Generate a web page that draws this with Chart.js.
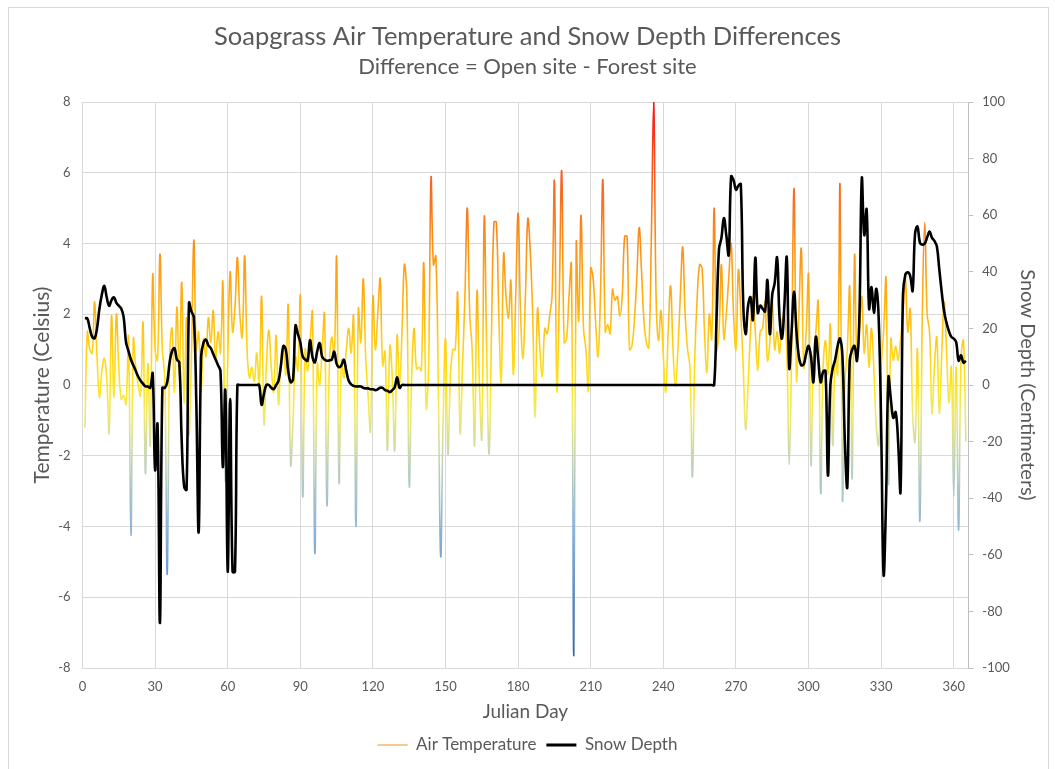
<!DOCTYPE html>
<html><head><meta charset="utf-8">
<script src="https://cdn.jsdelivr.net/npm/chart.js@4.4.1/dist/chart.umd.min.js"></script>
<style>
html,body{margin:0;padding:0;background:#fff;overflow:hidden;width:1055px;height:769px;}
#frame{position:absolute;left:8px;top:7px;width:1041px;height:800px;border:1px solid #d9d9d9;box-sizing:border-box;}
#c{position:absolute;left:0;top:0;}
</style></head><body>
<div id="frame"></div>
<canvas id="c" width="1055" height="769"></canvas>
<script>
const julianDays = [
1,2,3,4,5,6,7,8,9,10,11,12,13,14,15,16,17,18,19,20,
21,22,23,24,25,26,27,28,29,30,31,32,33,34,35,36,37,38,39,40,
41,42,43,44,45,46,47,48,49,50,51,52,53,54,55,56,57,58,59,60,
61,62,63,64,65,66,67,68,69,70,71,72,73,74,75,76,77,78,79,80,
81,82,83,84,85,86,87,88,89,90,91,92,93,94,95,96,97,98,99,100,
101,102,103,104,105,106,107,108,109,110,111,112,113,114,115,116,117,118,119,120,
121,122,123,124,125,126,127,128,129,130,131,132,133,134,135,136,137,138,139,140,
141,142,143,144,145,146,147,148,149,150,151,152,153,154,155,156,157,158,159,160,
161,162,163,164,165,166,167,168,169,170,171,172,173,174,175,176,177,178,179,180,
181,182,183,184,185,186,187,188,189,190,191,192,193,194,195,196,197,198,199,200,
201,202,203,204,205,206,207,208,209,210,211,212,213,214,215,216,217,218,219,220,
221,222,223,224,225,226,227,228,229,230,231,232,233,234,235,236,237,238,239,240,
241,242,243,244,245,246,247,248,249,250,251,252,253,254,255,256,257,258,259,260,
261,262,263,264,265,266,267,268,269,270,271,272,273,274,275,276,277,278,279,280,
281,282,283,284,285,286,287,288,289,290,291,292,293,294,295,296,297,298,299,300,
301,302,303,304,305,306,307,308,309,310,311,312,313,314,315,316,317,318,319,320,
321,322,323,324,325,326,327,328,329,330,331,332,333,334,335,336,337,338,339,340,
341,342,343,344,345,346,347,348,349,350,351,352,353,354,355,356,357,358,359,360,
361,362,363,364,365
];
const airTemperature = [
-1.2,1.5,1.0,0.9,2.35,0.8,-0.35,0.4,0.75,0.2,-1.35,1.95,-0.35,2.0,0.5,-0.4,-0.3,-0.55,1.35,-4.25,
1.3,0.5,0.0,-0.3,1.75,-2.5,0.6,-1.7,3.1,1.0,0.7,3.7,1.0,0.2,-5.35,0.8,1.6,-0.2,2.2,0.3,
2.9,-0.5,1.9,-1.4,0.8,4.1,1.0,1.5,-0.2,1.3,0.8,1.9,1.2,2.1,0.7,1.5,0.9,2.9,-2.7,0.6,
3.2,1.5,2.2,3.6,2.0,1.35,3.65,1.0,0.2,0.5,0.1,0.9,0.0,2.5,-1.1,0.6,1.55,0.5,-0.2,1.4,
-0.55,0.7,1.0,0.3,2.25,-2.25,-1.0,0.8,0.4,2.5,-3.15,1.0,0.4,1.2,2.05,-4.75,0.6,0.0,1.0,2.0,
-3.4,0.5,1.35,0.8,3.6,-2.75,0.7,0.2,1.0,1.6,0.9,1.95,-4.0,2.15,1.2,3.0,0.8,-0.3,-1.3,2.5,
1.0,2.0,3.0,0.55,0.95,-1.85,1.1,0.2,-1.85,1.4,0.0,1.5,3.4,2.6,-2.85,0.2,1.6,0.45,0.5,0.4,
3.45,-0.65,0.5,5.85,3.4,3.65,0.0,-4.85,-1.0,1.3,-1.95,0.2,1.0,1.0,2.6,-1.35,0.5,2.5,5.0,2.0,
1.0,-1.7,2.65,0.0,-1.5,4.75,1.0,-1.95,1.5,4.6,4.6,2.0,0.1,3.7,2.5,1.9,2.95,0.3,2.5,4.85,
2.0,0.75,2.5,4.7,3.8,2.0,-0.9,2.15,1.0,0.25,1.6,1.45,1.95,2.5,5.75,-0.15,2.5,6.05,1.2,1.3,
2.5,3.4,-7.65,4.0,1.8,4.8,1.6,1.0,-0.15,3.3,3.0,1.8,0.8,2.5,5.8,1.5,1.7,1.45,2.7,2.4,
2.5,1.95,2.5,4.2,4.2,1.0,1.1,1.8,3.0,4.45,3.2,1.8,1.2,1.05,4.0,8.0,2.5,1.25,2.1,0.8,
-0.2,1.5,2.8,1.0,-0.05,1.0,2.5,3.9,2.0,1.0,0.5,-2.6,0.8,2.5,3.4,3.3,1.5,0.35,2.0,1.3,
5.0,1.0,1.5,3.4,1.3,2.0,3.0,4.0,2.0,1.0,3.25,2.0,0.5,-1.25,0.0,1.5,2.5,1.5,0.4,1.5,
1.6,2.35,0.7,1.2,2.35,1.0,1.5,0.9,1.8,2.0,1.0,-2.25,1.0,5.55,0.15,2.0,3.85,0.5,1.5,3.1,
-2.25,0.8,1.5,2.35,-3.05,0.5,1.25,0.3,1.7,-1.7,0.8,0.3,5.65,-3.2,0.0,1.0,2.75,-2.65,3.65,0.7,
1.5,2.5,0.9,1.7,0.5,1.6,0.4,-1.2,-1.7,0.5,1.5,3.0,-2.8,1.3,0.7,1.1,0.7,1.3,2.0,3.0,
1.5,2.15,-0.8,-1.6,1.0,-3.85,2.0,4.6,2.0,1.5,-0.8,0.5,1.35,-0.8,0.8,2.35,1.0,-0.5,0.5,-3.15,
0.5,-4.1,0.8,1.25,-1.6
];
const snowDepth = [
23.6,23.5,20,17,16.5,20,27,32,35,31,28,30,31,29,28,27,24,15,12,9,
7,5,3,1.5,0.5,-0.5,-0.5,-1,4,-30,-14,-84,-1,-1,1,8,12,13,9,8,
-20,-36,-37,29,26,24,-5,-52,10,15,16,14,13,11,9,7,5,-29,-2,-66,
-5,-66,-66,0,0,0,0,0,0,0,0,0,0,-7,-3,0,0,-1,-1.5,0,
1.5,7,13.8,12.5,5,1,2,21,18,15,10,9,8.6,15.8,10,8,12,14.8,10,9,
8.6,8.7,9,11.8,7.5,6.3,7,8.9,5,1.5,0.2,-0.3,-0.5,-0.5,-0.5,-1,-1.2,-1.2,-1.5,-1.5,
-1.8,-1.5,-1,-1,-1.8,-2,-2.5,-1.8,-0.8,2.7,-1,0,0,0,0,0,0,0,0,0,
0,0,0,0,0,0,0,0,0,0,0,0,0,0,0,0,0,0,0,0,
0,0,0,0,0,0,0,0,0,0,0,0,0,0,0,0,0,0,0,0,
0,0,0,0,0,0,0,0,0,0,0,0,0,0,0,0,0,0,0,0,
0,0,0,0,0,0,0,0,0,0,0,0,0,0,0,0,0,0,0,0,
0,0,0,0,0,0,0,0,0,0,0,0,0,0,0,0,0,0,0,0,
0,0,0,0,0,0,0,0,0,0,0,0,0,0,0,0,0,0,0,0,
0,24,48,52,59,53,46,73.7,72.4,69,70.4,71,29,18,28,31,23,45,25.5,28,
27,26,37,18,32,36,45,24,16.4,28,45,6,19,33,19,10,7,7.3,11,13.8,
10,1,17,9,1,4.7,5,-32,0,6,9,13.8,16.4,10,-20,-36,8.6,12.5,13.8,8.6,
24,73,53,62,27,34.6,25.5,34,22.9,-15,-67,-41,2.7,-5,-11.6,-9.6,-20,-37.6,32,39,
39.8,38.5,33.3,53.5,56,50.3,49.6,50,52.2,54.2,52,50.9,49,41,33,26,22,19,17,16.4,
15.1,8.6,10.5,7.9,8.6
];
const xTickValues = [0,30,60,90,120,150,180,210,240,270,300,330,360];
const tempTicks = [-8,-6,-4,-2,0,2,4,6,8];
const snowTicks = [-100,-80,-60,-40,-20,0,20,40,60,80,100];

const FONT = 'Lato, "Open Sans", sans-serif';
const GRAY = '#595959';
const GRID = '#d9d9d9';

const tempPoints = julianDays.map((d, i) => ({x: d, y: airTemperature[i]}));
const snowPoints = julianDays.map((d, i) => ({x: d, y: snowDepth[i]}));

const gradientStops = [
  [0.0, '#2f5f9e'], [0.125, '#5f8cc0'], [0.25, '#8fb5da'], [0.375, '#c6d6b6'],
  [0.45, '#efe96c'], [0.5, '#fbe61a'], [0.5625, '#ffd21a'], [0.625, '#ffb912'],
  [0.6875, '#ffa414'], [0.75, '#fb9018'], [0.8125, '#f8781f'], [0.875, '#f55e22'], [1.0, '#ff1010']
];
function tempColor(context) {
  const chart = context.chart;
  const {ctx, chartArea, scales} = chart;
  if (!chartArea || !scales.y) return '#f5a623';
  const y0 = scales.y.getPixelForValue(-8), y1 = scales.y.getPixelForValue(8);
  const g = ctx.createLinearGradient(0, y0, 0, y1);
  gradientStops.forEach(s => g.addColorStop(s[0], s[1]));
  return g;
}

new Chart(document.getElementById('c'), {
  type: 'line',
  data: {
    datasets: [
      { label: 'Air Temperature', data: tempPoints, yAxisID: 'y', borderColor: tempColor,
        borderWidth: 1.6, pointRadius: 0, tension: 0.4, order: 2, fill: false },
      { label: 'Snow Depth', data: snowPoints, yAxisID: 'y2', borderColor: '#000000',
        borderWidth: 2.6, pointRadius: 0, tension: 0.4, order: 1, fill: false }
    ]
  },
  options: {
    responsive: false,
    animation: false,
    devicePixelRatio: 1,
    layout: { padding: { top: 0, left: 0, right: 0, bottom: 5.5 } },
    plugins: {
      title: { display: true, text: 'Soapgrass Air Temperature and Snow Depth Differences',
        color: GRAY, font: { family: FONT, size: 25.5, weight: 'normal' }, padding: { top: 21.7, bottom: 0 } },
      subtitle: { display: true, text: 'Difference = Open site - Forest site',
        color: GRAY, font: { family: FONT, size: 22, weight: 'normal' }, padding: { top: 1.5, bottom: 21.8 } },
      legend: { position: 'bottom',
        labels: { color: GRAY, font: { family: FONT, size: 17 }, usePointStyle: true, pointStyleWidth: 30, padding: 10,
          generateLabels: () => [
            { text: 'Air Temperature', strokeStyle: '#f5b66a', fillStyle: '#f5b66a', lineWidth: 1.5, pointStyle: 'line', hidden: false, datasetIndex: 0, fontColor: GRAY },
            { text: 'Snow Depth', strokeStyle: '#000000', fillStyle: '#000000', lineWidth: 3, pointStyle: 'line', hidden: false, datasetIndex: 1, fontColor: GRAY }
          ] } },
      tooltip: { enabled: false }
    },
    scales: {
      x: { type: 'linear', position: 'bottom', min: 0, max: 366,
        afterBuildTicks: s => { s.ticks = xTickValues.map(v => ({ value: v })); },
        afterFit: s => { s.height = 58.5; },
        grid: { color: GRID, drawTicks: false, lineWidth: 1 },
        border: { display: true, color: GRID },
        ticks: { color: GRAY, font: { family: FONT, size: 13 }, padding: 11.5, maxRotation: 0, autoSkip: false },
        title: { display: true, text: 'Julian Day', color: GRAY, font: { family: FONT, size: 19 }, padding: { top: 0, bottom: 3.1 } } },
      y: { type: 'linear', position: 'left', min: -8, max: 8,
        afterBuildTicks: s => { s.ticks = tempTicks.map(v => ({ value: v })); },
        afterFit: s => { s.width = 82.5; },
        grid: { color: GRID, drawTicks: false },
        border: { display: false },
        ticks: { color: GRAY, font: { family: FONT, size: 13 }, padding: 12 },
        title: { display: true, text: 'Temperature (Celsius)', color: GRAY, font: { family: FONT, size: 21 }, padding: { top: 29.4, bottom: 0 } } },
      y2: { type: 'linear', position: 'right', min: -100, max: 100,
        afterBuildTicks: s => { s.ticks = snowTicks.map(v => ({ value: v })); },
        afterFit: s => { s.width = 86.7; },
        grid: { drawOnChartArea: false, drawTicks: true, tickLength: 5, color: '#bfbfbf' },
        border: { display: true, color: '#bfbfbf' },
        ticks: { color: GRAY, font: { family: FONT, size: 13 }, padding: 9 },
        title: { display: true, text: 'Snow Depth (Centimeters)', color: GRAY, font: { family: FONT, size: 20 }, padding: { top: 16, bottom: 0 } } }
    }
  }
});
</script>
</body></html>
